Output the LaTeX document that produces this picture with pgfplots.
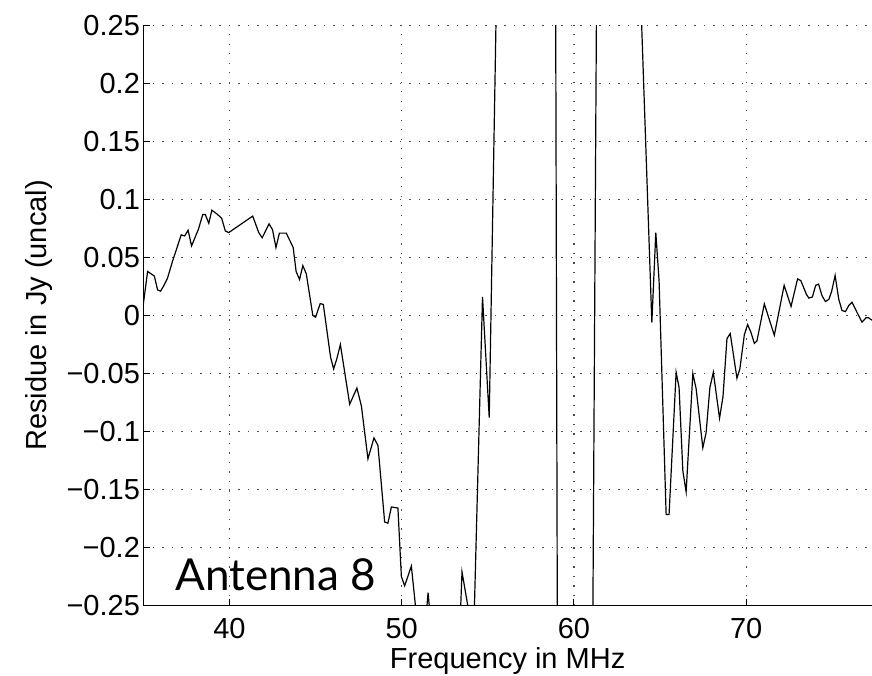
\documentclass[border=0pt]{standalone}
\usepackage{fontspec}
\setmainfont{Liberation Sans}
\newfontfamily\gillfont{Lato}
\usepackage{pgfplots}
\pgfplotsset{compat=1.18}

\pgfplotstableread{
x y
35.00 0.0097
35.25 0.038
35.64 0.034
35.83 0.022
36.00 0.021
36.20 0.026
36.40 0.032
36.70 0.047
37.20 0.0695
37.40 0.0686
37.60 0.0735
37.80 0.060
38.20 0.0744
38.45 0.087
38.60 0.087
38.80 0.0795
38.98 0.0908
39.26 0.0877
39.55 0.0838
39.76 0.0729
39.96 0.0715
41.35 0.0857
41.70 0.0715
41.90 0.067
42.30 0.079
42.50 0.074
42.70 0.0586
42.90 0.071
43.30 0.071
43.70 0.0586
43.87 0.038
44.07 0.031
44.26 0.043
44.46 0.036
44.84 0.000
45.00 -0.0014
45.27 0.0103
45.45 0.0095
45.87 -0.036
46.05 -0.046
46.24 -0.037
46.44 -0.025
46.98 -0.0765
47.40 -0.0625
47.66 -0.078
48.04 -0.1235
48.39 -0.1055
48.62 -0.112
49.01 -0.178
49.20 -0.179
49.40 -0.165
49.78 -0.166
49.98 -0.225
50.17 -0.233
50.56 -0.216
50.90 -0.265
51.10 -0.300
51.35 -0.270
51.53 -0.239
51.72 -0.270
52.50 -0.350
53.30 -0.300
53.50 -0.221
53.95 -0.260
54.10 -0.320
54.69 0.016
55.08 -0.088
55.65 0.406
56.50 1.000
58.00 1.200
58.90 0.470
59.10 -0.630
60.00 -0.900
61.00 -0.500
61.40 0.500
62.50 0.900
63.75 0.328
64.52 -0.006
64.75 0.0715
64.94 0.030
65.35 -0.1715
65.52 -0.1715
65.93 -0.049
66.10 -0.062
66.32 -0.134
66.51 -0.152
66.90 -0.050
67.09 -0.063
67.48 -0.114
67.67 -0.101
67.89 -0.062
68.09 -0.049
68.45 -0.0885
68.65 -0.070
68.88 -0.020
69.07 -0.0155
69.46 -0.054
69.63 -0.046
69.89 -0.0165
70.08 -0.0078
70.27 -0.0144
70.47 -0.024
70.62 -0.022
71.05 0.010
71.63 -0.017
72.20 0.026
72.60 0.0078
72.98 0.0316
73.17 0.030
73.50 0.018
73.64 0.015
73.84 0.016
74.03 0.026
74.20 0.027
74.40 0.017
74.60 0.012
74.80 0.014
74.96 0.021
75.16 0.0345
75.37 0.014
75.56 0.0043
75.76 0.0034
75.95 0.0086
76.14 0.0114
76.47 0.0015
76.72 -0.0057
76.95 -0.002
77.10 -0.002
77.30 -0.004
}\residue

\begin{document}
\begin{tikzpicture}
\begin{axis}[
  scale only axis, width=364.3pt, height=290pt,
  xmin=35, xmax=77.3, ymin=-0.25, ymax=0.25,
  axis x line*=bottom, axis y line*=left,
  axis line style={black, line width=0.5pt},
  xtick={40,50,60,70}, xticklabels={40,50,60,70},
  ytick={-0.25,-0.2,-0.15,-0.1,-0.05,0,0.05,0.1,0.15,0.2,0.25},
  yticklabels={−0.25,−0.2,−0.15,−0.1,−0.05,0,0.05,0.1,0.15,0.2,0.25},
  tick align=inside, major tick length=3.5pt,
  tick style={black, line width=0.5pt},
  grid=major,
  major grid style={black!70, line width=0.6pt, dash pattern=on 0.6pt off 4.15pt},
  tick label style={font=\fontsize{14.5}{17}\selectfont},
  label style={font=\fontsize{14.5}{17}\selectfont},
  yticklabel style={inner xsep=1.5pt},
  xticklabel style={yshift=-3pt},
  xlabel={Frequency in MHz},
  ylabel={Residue in Jy (uncal)},
  xlabel style={at={(axis description cs:0.5,0)}, anchor=base, yshift=-31.3pt},
  ylabel style={at={(axis description cs:-0.1323,0.5)}, anchor=base},
]
\addplot[black, line width=0.6pt, mark=none] table[x=x, y=y] {\residue};
\node[anchor=base west, inner sep=0pt, font=\gillfont\fontsize{22}{25}\selectfont]
  at (rel axis cs:0.0435,0.0259) {Antenna 8};
\end{axis}
\pgfresetboundingbox
\path[use as bounding box] ([xshift=-71.65pt,yshift=-35.15pt]current axis.south west)
  rectangle ([yshift=12.75pt]current axis.north east);
\end{tikzpicture}
\end{document}
